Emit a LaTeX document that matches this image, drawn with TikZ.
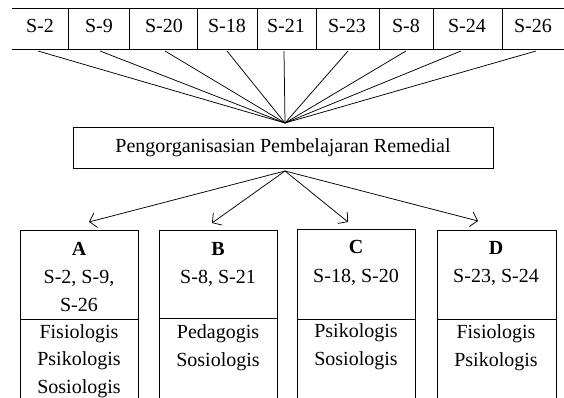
\documentclass[tikz,border=0pt]{standalone}
\usepackage{fontspec}
\setmainfont{Liberation Serif}
\usetikzlibrary{arrows.meta}
\begin{document}
\begin{tikzpicture}[x=1pt,y=-1pt,
  every node/.style={font=\fontsize{20}{27}\selectfont, inner sep=0pt},
  ln/.style={line width=0.75pt, draw=black},
  txt/.style={anchor=base},
  ttl/.style={anchor=base, font=\fontsize{20}{27}\selectfont\bfseries},
  grp/.style={draw, line width=0.75pt, anchor=north west, minimum width=118pt, minimum height=180pt},
  arr/.style={line width=0.75pt, -{Straight Barb[length=6.5pt,width=15pt,line width=0.75pt]}}
]
\useasboundingbox (0,0) rectangle (564,398);
\clip (0,0) rectangle (564,398);
% top table
\draw[ln] (12,8) -- (564,8);
\draw[ln] (12,49) -- (564,49);
\foreach \xx in {68,129,197,257,316,379,433,502} \draw[ln] (\xx,8) -- (\xx,49);
\node[txt] (s2)  at (40,33)  {S-2};
\node[txt] (s9)  at (99,33)  {S-9};
\node[txt] (s20) at (164,33) {S-20};
\node[txt] (s18) at (227,33) {S-18};
\node[txt] (s21) at (286,33) {S-21};
\node[txt] (s23) at (347,33) {S-23};
\node[txt] (s8)  at (406,33) {S-8};
\node[txt] (s24) at (467,33) {S-24};
\node[txt] (s26) at (533,33) {S-26};
% line starts and convergence
\coordinate (c2)  at (38,51);
\coordinate (c9)  at (100,51);
\coordinate (c20) at (165,51);
\coordinate (c18) at (227,51);
\coordinate (c21) at (284,51);
\coordinate (c23) at (348,51);
\coordinate (c8)  at (406,51);
\coordinate (c24) at (461,51);
\coordinate (c26) at (536,51);
\coordinate (conv) at (285,123);
\foreach \c in {c2,c9,c20,c18,c21,c23,c8,c24,c26} \draw[ln] (\c) -- (conv);
% central box
\node[draw, line width=0.75pt, minimum width=420pt, minimum height=41pt] (org) at (283,147.5) {Pengorganisasian Pembelajaran Remedial};
\coordinate (split) at (285,171);
\coordinate (tA) at (89,222);
\coordinate (tB) at (212,223);
\coordinate (tC) at (348,222);
\coordinate (tD) at (478,221);
\foreach \t in {tA,tB,tC,tD} \draw[arr] (split) -- (\t);
% group boxes
\node[grp] (boxA) at (20,230) {};
\node[grp] (boxB) at (159,230) {};
\node[grp] (boxC) at (297,229) {};
\node[grp, minimum width=119pt] (boxD) at (437,230) {};
\draw[ln] (boxA.west |- 0,319) -- (boxA.east |- 0,319);
\draw[ln] (boxB.west |- 0,318) -- (boxB.east |- 0,318);
\draw[ln] (boxC.west |- 0,319) -- (boxC.east |- 0,319);
\draw[ln] (boxD.west |- 0,319) -- (boxD.east |- 0,319);
% A
\node[ttl] (aT) at (79,255) {A};
\node[txt] (a1) at (79,283) {S-2, S-9,};
\node[txt] (a2) at (79,311) {S-26};
\node[txt] (aL1) at (79,338) {Fisiologis};
\node[txt] (aL2) at (79,365) {Psikologis};
\node[txt] (aL3) at (79,393) {Sosiologis};
% B
\node[ttl] (bT) at (218,255) {B};
\node[txt] (b1) at (218,283) {S-8, S-21};
\node[txt] (bL1) at (218,338) {Pedagogis};
\node[txt] (bL2) at (218,366) {Sosiologis};
% C
\node[ttl] (cT) at (356,253) {C};
\node[txt] (c1) at (356,282) {S-18, S-20};
\node[txt] (cL1) at (356,337) {Psikologis};
\node[txt] (cL2) at (356,365) {Sosiologis};
% D
\node[ttl] (dT) at (496,254) {D};
\node[txt] (d1) at (496,282) {S-23, S-24};
\node[txt] (dL1) at (496,338) {Fisiologis};
\node[txt] (dL2) at (496,366) {Psikologis};
\end{tikzpicture}
\end{document}
